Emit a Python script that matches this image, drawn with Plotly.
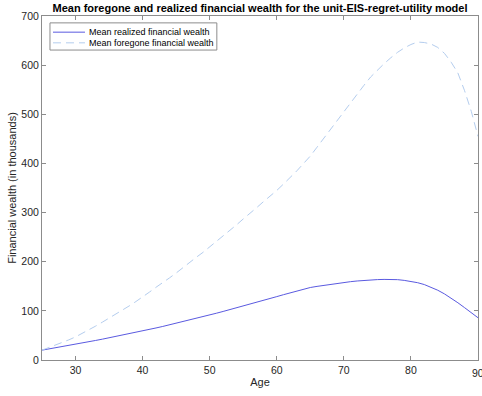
import plotly.graph_objects as go

ages = list(range(25, 91))
realized = [20, 22.3, 24.7, 27.1, 29.6, 32.1, 34.6, 37.2, 39.8, 42.4, 45.1, 47.8, 50.6, 53.4, 56.3, 59.2,
            62.2, 65.2, 68.3, 71.5, 74.7, 78.0, 81.3, 84.7, 88.2, 91.7, 95.2, 98.8, 102.4, 106.1,
            109.8, 113.6, 117.4, 121.2, 125.1, 129.0, 132.9, 136.8, 140.8, 144.5,
            147.5, 149.8, 152.0, 154.1, 156.0, 157.8, 159.4, 160.8, 162.0, 163.0,
            163.6, 164.0, 164.0, 163.5, 162.0, 160.0, 157.3, 153.5, 148.5, 142.0,
            134.5, 126.0, 116.5, 106.5, 96.0, 86]
foregone = [20, 25, 30, 36, 41, 47, 54, 61, 69, 77, 85, 93, 102, 110, 119, 128, 138, 148, 157, 167,
            177, 188, 198, 209, 219, 230, 241, 252, 264, 275, 287, 298, 310, 322, 333, 345, 358, 371, 385, 400,
            415, 433, 451, 470, 489, 507, 525, 542, 559, 576, 590, 603, 615, 626, 635, 642, 647, 646, 643, 636,
            624, 606, 584, 548, 506, 455]
x_ticks = [30, 40, 50, 60, 70, 80, 90]
y_ticks = [0, 100, 200, 300, 400, 500, 600, 700]
names = ["Mean realized financial wealth", "Mean foregone financial wealth"]

FONT = "Liberation Sans, Arial, Helvetica"
c_real = "#5a5ae0"
c_fore = "#b4cdee"
dash_fore = "8px,5px"

fig = go.Figure()
fig.add_trace(go.Scatter(x=ages, y=realized, mode="lines", name=names[0],
                         line=dict(color=c_real, width=1)))
fig.add_trace(go.Scatter(x=ages, y=foregone, mode="lines", name=names[1],
                         line=dict(color=c_fore, width=1, dash=dash_fore)))

axis_common = dict(showgrid=False, zeroline=False, showline=True, linecolor="#8c8c8c", linewidth=1,
                   mirror="allticks", ticks="inside", ticklen=4, tickcolor="#8c8c8c",
                   tickfont=dict(family=FONT, size=10.5, color="#262626"))

# compact legend box (paper coordinates)
shapes = [
    dict(type="rect", xref="paper", yref="paper", x0=0.0183, x1=0.401, y0=0.901, y1=0.980,
         line=dict(color="#8c8c8c", width=1), fillcolor="white", layer="above"),
    dict(type="line", xref="paper", yref="paper", x0=0.0252, x1=0.0986, y0=0.953, y1=0.953,
         line=dict(color=c_real, width=1), layer="above"),
    dict(type="line", xref="paper", yref="paper", x0=0.0252, x1=0.0986, y0=0.922, y1=0.922,
         line=dict(color=c_fore, width=1, dash=dash_fore), layer="above"),
]
annotations = [
    dict(text=names[0], xref="paper", yref="paper", x=0.104, y=0.953, xanchor="left", yanchor="middle",
         showarrow=False, font=dict(family=FONT, size=9, color="black")),
    dict(text=names[1], xref="paper", yref="paper", x=0.104, y=0.922, xanchor="left", yanchor="middle",
         showarrow=False, font=dict(family=FONT, size=9, color="black")),
    dict(text=str(x_ticks[-1]), xref="x", yref="paper", x=x_ticks[-1], y=0, yshift=-5,
         xanchor="center", yanchor="top", showarrow=False,
         font=dict(family=FONT, size=10.5, color="#262626")),
]

fig.update_layout(
    width=482, height=396,
    margin=dict(l=42, r=4, t=16, b=36),
    paper_bgcolor="white", plot_bgcolor="white",
    showlegend=False,
    title=dict(text="<b>Mean foregone and realized financial wealth for the unit-EIS-regret-utility model</b>",
               xref="paper", x=0.5, xanchor="center", y=0.98, yanchor="middle",
               font=dict(family=FONT, size=11, color="black")),
    xaxis=dict(range=[25, 90], tickvals=x_ticks[:-1],
               title=dict(text="Age", standoff=3,
                          font=dict(family=FONT, size=11, color="#262626")),
               **axis_common),
    yaxis=dict(range=[0, 700], tickvals=y_ticks,
               title=dict(text="Financial wealth (in thousands)", standoff=2,
                          font=dict(family=FONT, size=11, color="#262626")),
               **axis_common),
    shapes=shapes,
    annotations=annotations,
)

fig.write_html("out.html")
